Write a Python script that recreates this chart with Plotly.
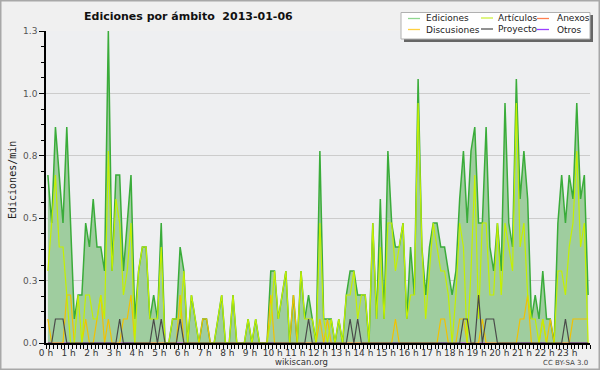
import plotly.graph_objects as go

# 10-minute bins over the day (hours, bin centres)
bins = list(range(144))

ediciones = [
    0.7,0.5,0.9,0.7,0.5,0.9,  0.5,0.1,0.2,0.2,0.5,0.4,  0.6,0.4,0.4,0.3,1.3,0.3,
    0.7,0.7,0.3,0.5,0.7,0.1,  0.3,0.4,0.4,0.1,0.2,0.1,  0.5,0.0,0.0,0.1,0.1,0.4,
    0.3,0.0,0.2,0.1,0.0,0.1,  0.1,0.0,0.0,0.1,0.2,0.0,  0.0,0.2,0.0,0.0,0.0,0.1,
    0.0,0.1,0.0,0.0,0.0,0.3,  0.3,0.1,0.2,0.3,0.0,0.2,  0.0,0.3,0.1,0.2,0.1,0.0,
    0.8,0.1,0.1,0.1,0.0,0.1,  0.0,0.2,0.3,0.3,0.2,0.2,  0.2,0.0,0.5,0.1,0.6,0.1,
    0.8,0.5,0.4,0.4,0.5,0.1,  0.4,0.2,1.1,0.4,0.2,0.4,  0.5,0.5,0.4,0.4,0.3,0.2,
    0.3,0.6,0.8,0.5,0.8,0.9,  0.5,0.5,0.9,0.4,0.3,0.5,  0.3,1.0,0.5,0.4,1.1,0.6,
    0.8,0.6,0.1,0.2,0.1,0.3,  0.1,0.1,0.0,0.5,0.7,0.5,  0.7,0.6,1.0,0.6,0.7,0.2,
]
articulos = [
    0.3,0.5,0.7,0.4,0.4,0.2,  0.0,0.0,0.2,0.0,0.2,0.2,  0.1,0.1,0.2,0.1,0.8,0.3,
    0.6,0.5,0.2,0.3,0.5,0.0,  0.3,0.4,0.4,0.1,0.1,0.1,  0.4,0.0,0.0,0.1,0.1,0.1,
    0.3,0.0,0.2,0.1,0.0,0.0,  0.0,0.0,0.0,0.1,0.2,0.0,  0.0,0.2,0.0,0.0,0.0,0.1,
    0.0,0.1,0.0,0.0,0.0,0.1,  0.3,0.1,0.2,0.3,0.0,0.0,  0.0,0.3,0.1,0.1,0.1,0.0,
    0.5,0.1,0.0,0.1,0.0,0.1,  0.0,0.2,0.2,0.3,0.1,0.2,  0.2,0.0,0.5,0.1,0.4,0.1,
    0.5,0.5,0.3,0.4,0.5,0.1,  0.2,0.2,1.0,0.4,0.1,0.3,  0.5,0.4,0.3,0.3,0.2,0.0,
    0.2,0.5,0.4,0.0,0.3,0.7,  0.1,0.5,0.5,0.2,0.2,0.5,  0.2,0.5,0.4,0.3,1.0,0.4,
    0.5,0.2,0.1,0.1,0.0,0.1,  0.0,0.0,0.0,0.3,0.3,0.2,  0.4,0.5,0.8,0.4,0.5,0.0,
]
discusiones = [
    0.1,0.0,0.0,0.0,0.0,0.2,  0.2,0.0,0.0,0.0,0.1,0.0,  0.0,0.1,0.2,0.0,0.1,0.0,
    0.0,0.0,0.1,0.1,0.2,0.0,  0.0,0.0,0.0,0.0,0.0,0.0,  0.0,0.0,0.0,0.0,0.0,0.2,
    0.0,0.0,0.0,0.0,0.0,0.1,  0.1,0.0,0.0,0.0,0.0,0.0,  0.0,0.0,0.0,0.0,0.0,0.0,
    0.0,0.0,0.0,0.0,0.0,0.2,  0.0,0.0,0.0,0.0,0.0,0.2,  0.0,0.0,0.0,0.0,0.0,0.0,
    0.1,0.0,0.1,0.0,0.0,0.0,  0.0,0.0,0.0,0.0,0.0,0.0,  0.0,0.0,0.0,0.0,0.0,0.0,
    0.0,0.0,0.1,0.0,0.0,0.0,  0.0,0.0,0.0,0.0,0.0,0.0,  0.0,0.0,0.1,0.1,0.0,0.0,
    0.0,0.1,0.1,0.0,0.0,0.0,  0.0,0.1,0.0,0.0,0.0,0.0,  0.0,0.0,0.0,0.0,0.0,0.1,
    0.1,0.2,0.0,0.0,0.0,0.1,  0.0,0.1,0.0,0.0,0.0,0.0,  0.0,0.1,0.1,0.1,0.1,0.1,
]
proyecto = [
    0.0,0.0,0.1,0.1,0.1,0.0,  0.0,0.0,0.0,0.0,0.0,0.0,  0.0,0.0,0.0,0.0,0.0,0.0,
    0.0,0.1,0.0,0.0,0.0,0.0,  0.0,0.0,0.0,0.0,0.1,0.0,  0.1,0.0,0.0,0.0,0.0,0.1,
    0.0,0.0,0.0,0.0,0.0,0.0,  0.0,0.0,0.0,0.0,0.0,0.0,  0.0,0.0,0.0,0.0,0.0,0.0,
    0.0,0.0,0.0,0.0,0.0,0.0,  0.0,0.0,0.0,0.0,0.0,0.0,  0.0,0.0,0.0,0.1,0.0,0.0,
    0.0,0.0,0.0,0.0,0.0,0.0,  0.0,0.0,0.1,0.0,0.1,0.0,  0.0,0.0,0.0,0.0,0.0,0.0,
    0.0,0.0,0.0,0.0,0.0,0.0,  0.0,0.0,0.0,0.0,0.0,0.0,  0.0,0.0,0.0,0.0,0.0,0.0,
    0.0,0.0,0.1,0.1,0.0,0.0,  0.2,0.0,0.1,0.1,0.1,0.0,  0.0,0.0,0.0,0.0,0.0,0.0,
    0.0,0.0,0.0,0.0,0.0,0.0,  0.0,0.0,0.0,0.0,0.0,0.1,  0.0,0.0,0.0,0.0,0.0,0.0,
]
anexos = [0.0] * 144
otros = [0.0] * 144

hour_ticks = list(range(24))
hour_labels = [f"{h} h" for h in hour_ticks]
y_ticks = [0, 0.26, 0.52, 0.78, 1.04, 1.3]
y_labels = ["0.0", "0.3", "0.5", "0.8", "1.0", "1.3"]

x = [(b + 0.5) / 6 for b in bins]

C_ED_LINE = "#3aac3a"
C_ED_FILL = "#9fcd9f"
C_ART = "#c4f000"
C_ANX = "#ff7f3f"
C_DISC = "#f2c200"
C_PROJ = "#4a4a4a"
C_OTR = "#9b40ff"

fig = go.Figure()
fig.add_trace(go.Scatter(x=x, y=ediciones, mode="lines", fill="tozeroy",
                         fillcolor=C_ED_FILL, line=dict(color=C_ED_LINE, width=1.5),
                         name="Ediciones"))
fig.add_trace(go.Scatter(x=x, y=anexos, mode="lines", line=dict(color=C_ANX, width=1), name="Anexos"))
fig.add_trace(go.Scatter(x=x, y=otros, mode="lines", line=dict(color=C_OTR, width=1), name="Otros"))
fig.add_trace(go.Scatter(x=x, y=discusiones, mode="lines", line=dict(color=C_DISC, width=1.2), name="Discusiones"))
fig.add_trace(go.Scatter(x=x, y=articulos, mode="lines", line=dict(color=C_ART, width=1.2), name="Artículos"))
fig.add_trace(go.Scatter(x=x, y=proyecto, mode="lines", line=dict(color=C_PROJ, width=1.2), name="Proyecto"))

L, R, T, B = 46, 10, 31, 27
W, H = 600, 370
PW, PH = W - L - R, H - T - B

def px(xp):
    return (xp - L) / PW

def py(yp):
    return (H - B - yp) / PH

shapes = []
annotations = []

# outer border
shapes.append(dict(type="rect", xref="paper", yref="paper",
                   x0=px(0.75), x1=px(599.25), y0=py(369.25), y1=py(0.75),
                   line=dict(color="#a8a8a8", width=1.5), layer="below"))

# legend box with shadow
shapes.append(dict(type="rect", xref="paper", yref="paper",
                   x0=px(404), x1=px(593), y0=py(42), y1=py(15),
                   fillcolor="#666666", line=dict(width=0)))
shapes.append(dict(type="rect", xref="paper", yref="paper",
                   x0=px(401), x1=px(590), y0=py(39), y1=py(12.5),
                   fillcolor="#ffffff", line=dict(color="#b0b0b0", width=1)))

legend_items = [
    ("Ediciones", "#8fd68f", 408, 424, 18.5),
    ("Discusiones", "#ffd040", 408, 424, 29.5),
    ("Artículos", "#ccf040", 481, 496, 18),
    ("Proyecto", "#555555", 481, 496, 29),
    ("Anexos", "#ff7f4f", 537, 555, 18.5),
    ("Otros", "#9b40ff", 537, 555, 29.5),
]
for name, col, lx, tx, yy in legend_items:
    shapes.append(dict(type="line", xref="paper", yref="paper",
                       x0=px(lx), x1=px(lx + 12), y0=py(yy), y1=py(yy),
                       line=dict(color=col, width=1.3)))
    annotations.append(dict(xref="paper", yref="paper", x=px(tx), y=py(yy),
                            text=name, showarrow=False, xanchor="left", yanchor="middle",
                            font=dict(family="DejaVu Sans", size=9, color="#222222")))

annotations.append(dict(xref="paper", yref="paper", x=px(188), y=py(17),
                        text="<b>Ediciones por ámbito  2013-01-06</b>", showarrow=False,
                        xanchor="center", yanchor="middle",
                        font=dict(family="DejaVu Sans", size=11, color="#111111")))
annotations.append(dict(xref="paper", yref="paper", x=px(12), y=py(180),
                        text="Ediciones/min", showarrow=False, textangle=-90,
                        xanchor="center", yanchor="middle",
                        font=dict(family="DejaVu Sans Mono", size=10, color="#222222")))
annotations.append(dict(xref="paper", yref="paper", x=px(301), y=py(362),
                        text="wikiscan.org", showarrow=False,
                        xanchor="center", yanchor="middle",
                        font=dict(family="DejaVu Sans", size=8.5, color="#333333")))
annotations.append(dict(xref="paper", yref="paper", x=px(590), y=py(362.5),
                        text="CC BY-SA 3.0", showarrow=False,
                        xanchor="right", yanchor="middle",
                        font=dict(family="DejaVu Sans", size=7, color="#444444")))

fig.update_layout(
    width=W, height=H,
    margin=dict(l=L, r=R, t=T, b=B, pad=0),
    paper_bgcolor="#f0f0f0",
    plot_bgcolor="#eeeff1",
    showlegend=False,
    shapes=shapes,
    annotations=annotations,
    xaxis=dict(range=[0, 24], tickvals=hour_ticks, ticktext=hour_labels,
               ticks="outside", ticklen=4, tickwidth=1, tickcolor="#000000",
               ticklabelstandoff=-4,
               showline=True, linecolor="#000000", linewidth=1.5,
               showgrid=False, zeroline=False,
               tickfont=dict(family="DejaVu Sans", size=9, color="#333333"),
               minor=dict(dtick=1/6, tick0=0, ticks="outside", ticklen=4,
                          tickcolor="#000000", showgrid=False)),
    yaxis=dict(range=[0, 1.3], tickvals=y_ticks, ticktext=y_labels,
               ticks="outside", ticklen=5, tickwidth=1, tickcolor="#000000",
               showline=True, linecolor="#000000", linewidth=1.5,
               showgrid=True, gridcolor="#cccccc", gridwidth=1, zeroline=False,
               tickfont=dict(family="DejaVu Sans", size=9, color="#555555"),
               minor=dict(dtick=0.065, tick0=0, ticks="outside", ticklen=3,
                          tickcolor="#000000", showgrid=False)),
)

fig.write_html("out.html", config={"displayModeBar": False},
               post_script="document.body.style.margin='0';document.body.style.overflow='hidden';")
